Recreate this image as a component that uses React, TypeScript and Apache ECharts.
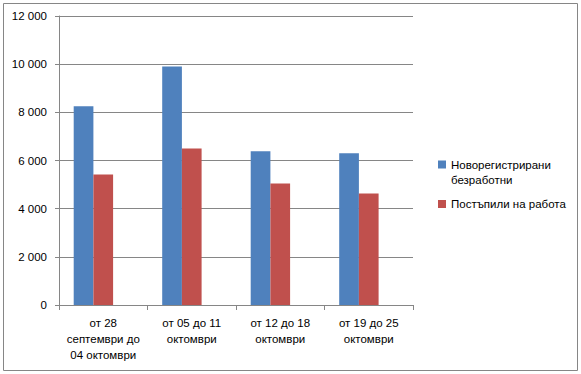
import React, { useEffect, useRef } from "react";
import * as echarts from "echarts";

const categories = [
  "от 28\nсептември до\n04 октомври",
  "от 05 до 11\nоктомври",
  "от 12 до 18\nоктомври",
  "от 19 до 25\nоктомври",
];
const seriesNames = ["Новорегистрирани\nбезработни", "Постъпили на работа"];
const newlyRegistered = [8250, 9900, 6380, 6300];
const startedWork = [5420, 6500, 5050, 4630];
const emptySeries: (number | null)[] = [null, null, null, null];
const colors = ["#4F81BD", "#C0504D"];

export default function App() {
  const ref = useRef<HTMLDivElement>(null);
  useEffect(() => {
    document.body.style.margin = "0";
    const chart = echarts.init(ref.current!, null, { renderer: "svg" });
    const font = "'Liberation Sans', Arial, sans-serif";
    chart.setOption({
      animation: false,
      backgroundColor: "#ffffff",
      textStyle: { fontFamily: font },
      graphic: [
        {
          type: "rect",
          shape: { x: 3.5, y: 3.5, width: 574, height: 367 },
          style: { fill: "none", stroke: "#868686", lineWidth: 1 },
          silent: true,
        },
      ],
      grid: { left: 59, right: 168, top: 16, bottom: 69, containLabel: false },
      legend: {
        orient: "vertical",
        left: 433,
        top: 152.5,
        itemWidth: 8,
        itemHeight: 24,
        itemGap: 4.5,
        textStyle: { fontFamily: font, fontSize: 11.5, color: "#000", lineHeight: 15 },
        data: [
          { name: seriesNames[0], icon: "path://M0,0L8,0L8,8L0,8Z M0,24L0,24Z" },
          { name: seriesNames[1], icon: "path://M0,8L8,8L8,16L0,16Z M0,0L0,0Z M0,24L0,24Z" },
        ],
      },
      xAxis: {
        type: "category",
        data: categories,
        axisLine: { lineStyle: { color: "#868686" } },
        axisTick: { show: true, length: 5, lineStyle: { color: "#868686" } },
        axisLabel: {
          interval: 0,
          margin: 10,
          fontSize: 11.5,
          lineHeight: 16,
          color: "#000",
          fontFamily: font,
        },
      },
      yAxis: {
        type: "value",
        min: 0,
        max: 12000,
        interval: 2000,
        axisLine: { show: true, lineStyle: { color: "#868686" } },
        axisTick: { show: true, length: 4, lineStyle: { color: "#868686" } },
        splitLine: { lineStyle: { color: "#868686" } },
        axisLabel: {
          margin: 12,
          fontSize: 11.5,
          color: "#000",
          fontFamily: font,
          formatter: (v: number) => (v >= 1000 ? `${Math.floor(v / 1000)} ${String(v % 1000).padStart(3, "0")}` : `${v}`),
        },
      },
      series: [
        {
          name: seriesNames[0],
          type: "bar",
          data: newlyRegistered,
          itemStyle: { color: colors[0] },
          barWidth: 19.7,
          barGap: "0%",
        },
        {
          name: seriesNames[1],
          type: "bar",
          data: startedWork,
          itemStyle: { color: colors[1] },
          barWidth: 19.7,
          barGap: "0%",
        },
        {
          name: "_empty",
          type: "bar",
          data: emptySeries,
          barWidth: 19.7,
          barGap: "0%",
          silent: true,
        },
      ],
    });
    return () => chart.dispose();
  }, []);
  return <div ref={ref} style={{ width: 581, height: 374 }} />;
}
